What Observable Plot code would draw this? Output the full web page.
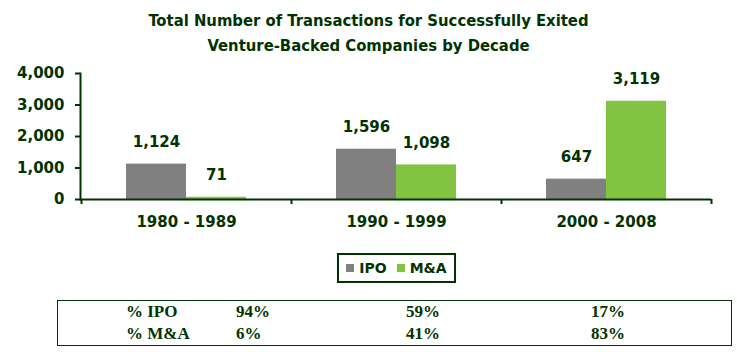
<!DOCTYPE html>
<html>
<head>
<meta charset="utf-8">
<script src="https://cdn.jsdelivr.net/npm/d3@7"></script>
<script src="https://cdn.jsdelivr.net/npm/@observablehq/plot@0.6"></script>
<style>
  html, body { margin: 0; padding: 0; background: #fff; }
  #page { position: relative; width: 737px; height: 352px; overflow: hidden; }
  #title { position: absolute; left: 0; top: 8px; width: 737px; text-align: center;
    font-family: "DejaVu Sans Condensed", "DejaVu Sans", sans-serif; font-stretch: condensed;
    font-weight: bold; font-size: 16.5px; line-height: 25px; color: #003300; }
  #chart { position: absolute; left: 0; top: 60px; }
  #legend { position: absolute; left: 337px; top: 253px; width: 115px; height: 26px;
    border: 2px solid #003300; display: flex; align-items: center; justify-content: center; gap: 10px;
    font-family: "DejaVu Sans", sans-serif; font-weight: bold; font-size: 14px; color: #003300; }
  #legend .item { display: flex; align-items: center; gap: 5px; }
  #legend .sw { width: 8px; height: 8px; display: inline-block; }
  #table { position: absolute; left: 57px; top: 300px; width: 673px; height: 44px;
    border: 1.5px solid #003300; font-family: "Liberation Serif", "Times New Roman", serif;
    font-weight: bold; font-size: 17px; color: #003300; }
  #table .cell { position: absolute; line-height: 22px; white-space: nowrap; }
</style>
</head>
<body>
<div id="page">
  <div id="title">Total Number of Transactions for Successfully Exited<br>Venture-Backed Companies by Decade</div>
  <div id="chart"></div>
  <div id="legend"></div>
  <div id="table"></div>
</div>
<script>
const decades = ["1980 - 1989", "1990 - 1999", "2000 - 2008"];
const ipo = [1124, 1596, 647];
const ma = [71, 1098, 3119];
const seriesNames = ["IPO", "M&A"];
const pctLabels = ["% IPO", "% M&A"];
const pctIPO = [94, 59, 17];
const pctMA = [6, 41, 83];
const yTicks = [0, 1000, 2000, 3000, 4000];

const dark = "#003300";
const gray = "#808080";
const green = "#82c341";
const colors = [gray, green];
const fmt = d3.format(",");

const rows = decades.map((d, i) => ({decade: d, ipo: ipo[i], ma: ma[i]}));

const chart = Plot.plot({
  width: 737,
  height: 180,
  marginLeft: 80,
  marginRight: 26,
  marginTop: 13,
  marginBottom: 41,
  x: {domain: decades, padding: 0, label: null},
  y: {domain: [0, 4000], label: null},
  style: {fontFamily: "DejaVu Sans, sans-serif", fontWeight: "bold", fontSize: "15px", color: dark, background: "transparent"},
  marks: [
    Plot.barY(rows, {x: "decade", y: "ipo", fill: gray, insetLeft: 45, insetRight: 105}),
    Plot.barY(rows, {x: "decade", y: "ma", fill: green, insetLeft: 105, insetRight: 45}),
    Plot.text(rows, {x: "decade", y: "ipo", text: d => fmt(d.ipo), dx: -30, dy: -22}),
    Plot.text(rows, {x: "decade", y: "ma", text: d => fmt(d.ma), dx: 30, dy: -22}),
    Plot.ruleY([0], {stroke: dark, strokeWidth: 2}),
    Plot.frame({anchor: "left", stroke: dark, strokeWidth: 2}),
    Plot.axisY(yTicks, {tickSize: 5, tickPadding: 11, tickFormat: fmt, stroke: dark, strokeWidth: 2, label: null}),
    Plot.axisX({tickSize: 0, tickPadding: 17, label: null}),
    Plot.ruleX(decades, {x: d => d, dx: -105, y1: 0, y2: 0, insetBottom: -5, stroke: dark, strokeWidth: 2}),
    Plot.ruleX([decades[decades.length - 1]], {x: d => d, dx: 105, y1: 0, y2: 0, insetBottom: -5, stroke: dark, strokeWidth: 2})
  ]
});
document.getElementById("chart").appendChild(chart);

// legend
const legend = document.getElementById("legend");
seriesNames.forEach((name, i) => {
  const item = document.createElement("span");
  item.className = "item";
  const sw = document.createElement("span");
  sw.className = "sw";
  sw.style.background = colors[i];
  const t = document.createElement("span");
  t.textContent = name;
  item.appendChild(sw);
  item.appendChild(t);
  legend.appendChild(item);
});

// percentage table
const table = document.getElementById("table");
const colLefts = [68, 178, 348, 533];
[[pctLabels[0], ...pctIPO.map(v => v + "%")], [pctLabels[1], ...pctMA.map(v => v + "%")]].forEach((row, r) => {
  row.forEach((txt, c) => {
    const el = document.createElement("div");
    el.className = "cell";
    el.textContent = txt;
    el.style.left = colLefts[c] + "px";
    el.style.top = (0 + r * 22) + "px";
    table.appendChild(el);
  });
});
</script>
</body>
</html>
